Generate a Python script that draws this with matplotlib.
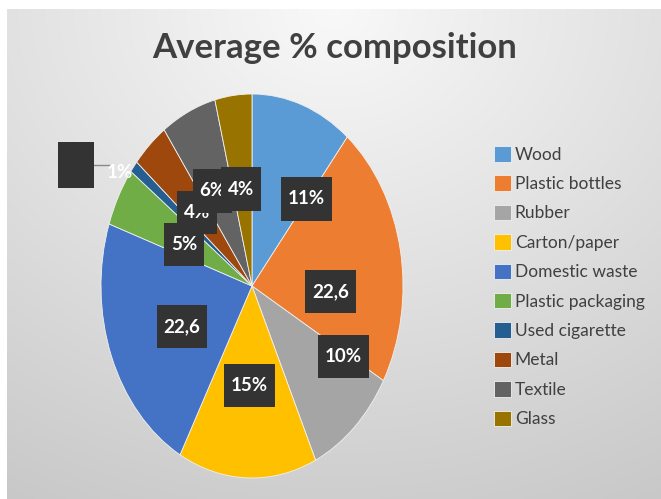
import numpy as np
import matplotlib.pyplot as plt
from matplotlib.path import Path

# Data
categories = ['Wood', 'Plastic bottles', 'Rubber', 'Carton/paper', 'Domestic waste',
              'Plastic packaging', 'Used cigarette', 'Metal', 'Textile', 'Glass']
values = [11, 22.6, 10, 15, 22.6, 5, 1, 4, 6, 4]
label_text = ['11%', '22,6', '10%', '15%', '22,6', '5%', '1%', '4%', '6%', '4%']
colors = ['#5B9BD5', '#ED7D31', '#A5A5A5', '#FFC000', '#4472C4',
          '#70AD47', '#255E91', '#9E480E', '#636363', '#997300']

# label placement tweaks (radius, angle shift in degrees) - Excel "best fit" look
label_r = [0.58, 0.52, 0.71, 0.52, 0.51, 0.50, 0.0, 0.53, 0.56, 0.51]
label_shift = [-19, -14, 16, 0, 3, 2, 0, 1, 3, 1]


def make_box(px, py):
    # rectangular label box with separate horizontal / vertical padding
    def box(x0, y0, width, height, mutation_size):
        ax_, ay_ = px * mutation_size, py * mutation_size
        x1, y1 = x0 + width + ax_, y0 + height + ay_
        x0, y0 = x0 - ax_, y0 - ay_
        return Path([(x0, y0), (x1, y0), (x1, y1), (x0, y1), (x0, y0)], closed=True)
    return box


W, H = 661, 499
fig = plt.figure(figsize=(W / 100, H / 100), dpi=100)
fig.patch.set_facecolor('white')

# slide background gradient
bg = fig.add_axes([7 / W, 0, 1 - 7 / W, 1 - 9 / H], zorder=-10)
yy, xx = np.mgrid[0:1:300j, 0:1:400j]
d = np.sqrt(((xx - 0.5) * 1.1) ** 2 + (yy * 1.0) ** 2)
shade = 0.975 - 0.2 * np.clip(d, 0, 1.2) / 1.2
bg.imshow(np.dstack([shade] * 3), extent=[0, 1, 0, 1], origin='upper', aspect='auto')
bg.set_axis_off()

# pie axes (stretched vertically like the original)
ax = fig.add_axes([101 / W, 21 / H, 302 / W, 384 / H])
wedges, _ = ax.pie(values, colors=colors, startangle=90, counterclock=False,
                   wedgeprops=dict(linewidth=0.6, edgecolor='#f0f0f0'))
ax.set_aspect('auto')
ax.set_xlim(-1, 1)
ax.set_ylim(-1, 1)

box = dict(boxstyle=make_box(0.36, 0.7), facecolor='#333333', edgecolor='none')
for i, w in enumerate(wedges):
    mid = np.deg2rad((w.theta1 + w.theta2) / 2 + label_shift[i])
    if label_r[i] == 0:
        # small slice: label outside with leader line to an empty box
        x0, y0 = 0.95 * np.cos(mid), 0.95 * np.sin(mid)
        ax.text(x0 - 0.13, y0 + 0.0, label_text[i], color='white', fontsize=13.5,
                fontweight='bold', family='Lato', ha='center', va='center', zorder=6,
                clip_on=False)
        ax.plot([x0 - 0.42, x0 - 0.2], [y0 + 0.04, y0 + 0.04], color='#888888', lw=1,
                zorder=4, clip_on=False)
        ax.text(x0 - 0.42, y0 + 0.04, ' ', fontsize=13.5, ha='center', va='center',
                bbox=dict(boxstyle=make_box(0.8, 0.72), facecolor='#333333',
                          edgecolor='none'),
                zorder=5, clip_on=False)
        continue
    x, y = label_r[i] * np.cos(mid), label_r[i] * np.sin(mid)
    ax.text(x, y, label_text[i], color='white', fontsize=13.5, fontweight='bold',
            family='Lato', ha='center', va='center', bbox=box, zorder=5 + i)

fig.text(335 / W, 1 - 48 / H, 'Average % composition', fontsize=25, fontweight='bold',
         family='Lato', color='#404040', ha='center', va='center')

leg = fig.legend(wedges, categories, loc='upper left', bbox_to_anchor=(494 / W, 1 - 146 / H),
                 frameon=False, handlelength=1.0, handleheight=1.0,
                 handletextpad=0.2, labelspacing=0.73, borderpad=0, borderaxespad=0,
                 prop={'family': 'Lato', 'size': 12.5})
for t in leg.get_texts():
    t.set_color('#404040')

fig.savefig('out.png', dpi=100)
